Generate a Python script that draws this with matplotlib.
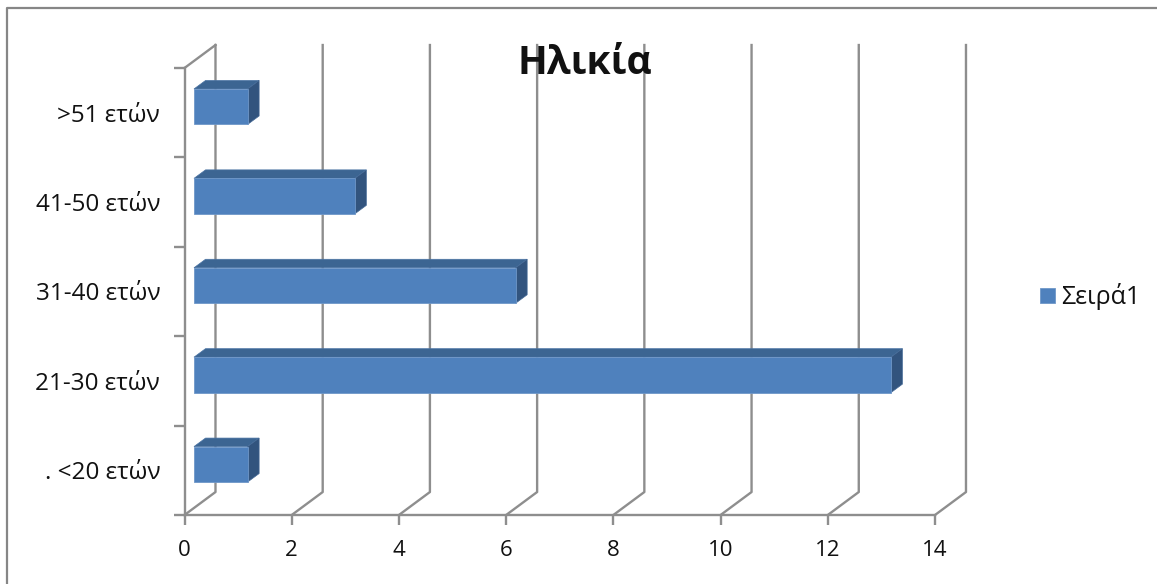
import matplotlib
matplotlib.use("Agg")
import matplotlib.pyplot as plt
from matplotlib.lines import Line2D
from matplotlib.patches import Polygon

plt.rcParams['font.family'] = ['Open Sans', 'DejaVu Sans']

# values
categories = ['. <20 ετών', '21-30 ετών', '31-40 ετών', '41-50 ετών', '>51 ετών']
values = [1, 13, 6, 3, 1]
x_ticks = [0, 2, 4, 6, 8, 10, 12, 14]
series_name = 'Σειρά1'
title = 'Ηλικία'

W, H = 1157, 584
grey = '#8e8e8e'

fig = plt.figure(figsize=(W / 100, H / 100), dpi=100)
# front plane of the fake 3d chart
ax = fig.add_axes([184.5 / W, 1 - 515 / H, 750.5 / W, 447 / H])
ax.set_xlim(0, 14)
ax.set_ylim(-0.5, 4.5)

# depth of the walls and of the bars, in data units
wall_dx, wall_dy = 0.578, 0.257
bar_x0, bar_dy = 0.177, 0.067
bar_h = 0.397
depth_x, depth_y = 0.215, 0.095

# back wall grid
for t in x_ticks:
    ax.plot([t, t + wall_dx, t + wall_dx], [-0.5, -0.5 + wall_dy, 4.5 + wall_dy],
            color=grey, lw=1.7, clip_on=False, zorder=1)
ax.plot([0, wall_dx], [4.5, 4.5 + wall_dy], color=grey, lw=1.7, clip_on=False, zorder=1)

# bars: front face plus top and side faces
ypos = list(range(len(values)))
bars = ax.barh([y + bar_dy for y in ypos], values, left=bar_x0, height=bar_h,
               color='#4f81bd', edgecolor='#6f97c8', linewidth=0.6, zorder=3,
               label=series_name)
for y, v in zip(ypos, values):
    y0 = y + bar_dy - bar_h / 2
    y1 = y + bar_dy + bar_h / 2
    x1 = bar_x0 + v
    ax.add_patch(Polygon([(bar_x0, y1), (x1, y1), (x1 + depth_x, y1 + depth_y),
                          (bar_x0 + depth_x, y1 + depth_y)],
                         facecolor='#3c6592', edgecolor='#4a73a3', lw=0.5,
                         clip_on=False, zorder=2))
    ax.add_patch(Polygon([(x1, y0), (x1 + depth_x, y0 + depth_y),
                          (x1 + depth_x, y1 + depth_y), (x1, y1)],
                         facecolor='#32547e', edgecolor='#456a97', lw=0.5,
                         clip_on=False, zorder=2))

for s in ['top', 'right']:
    ax.spines[s].set_visible(False)
for s in ['left', 'bottom']:
    ax.spines[s].set_color(grey)
    ax.spines[s].set_linewidth(1.7)

ax.set_xticks(x_ticks)
ax.set_yticks(ypos)
ax.set_yticklabels(categories)
ax.set_yticks([y - 0.5 for y in ypos] + [4.5], minor=True)
ax.tick_params(axis='x', length=7, width=1.7, color=grey, labelsize=16, pad=11, labelcolor='#111111')
ax.tick_params(axis='y', which='major', length=0, labelsize=17.5, pad=17.5, labelcolor='#111111')
ax.tick_params(axis='y', which='minor', length=8, width=1.7, color=grey)

fig.text(585 / W, 1 - 63 / H, title, fontsize=28, fontweight='bold',
         ha='center', va='center', color='#111111', zorder=5)

fig.legend(handles=[bars], labels=[series_name], frameon=False, fontsize=18,
           loc='center left', bbox_to_anchor=(1020 / W, 1 - 297 / H),
           handlelength=0.58, handleheight=0.58, handletextpad=0.25, borderpad=0.3,
           labelcolor='#111111')

# outer chart border, only top and left are visible in the crop
fig.add_artist(Line2D([7 / W, 7 / W, 1], [0, 1 - 8 / H, 1 - 8 / H], color='#868686', lw=1.6))

fig.savefig('out.png', dpi=100)
